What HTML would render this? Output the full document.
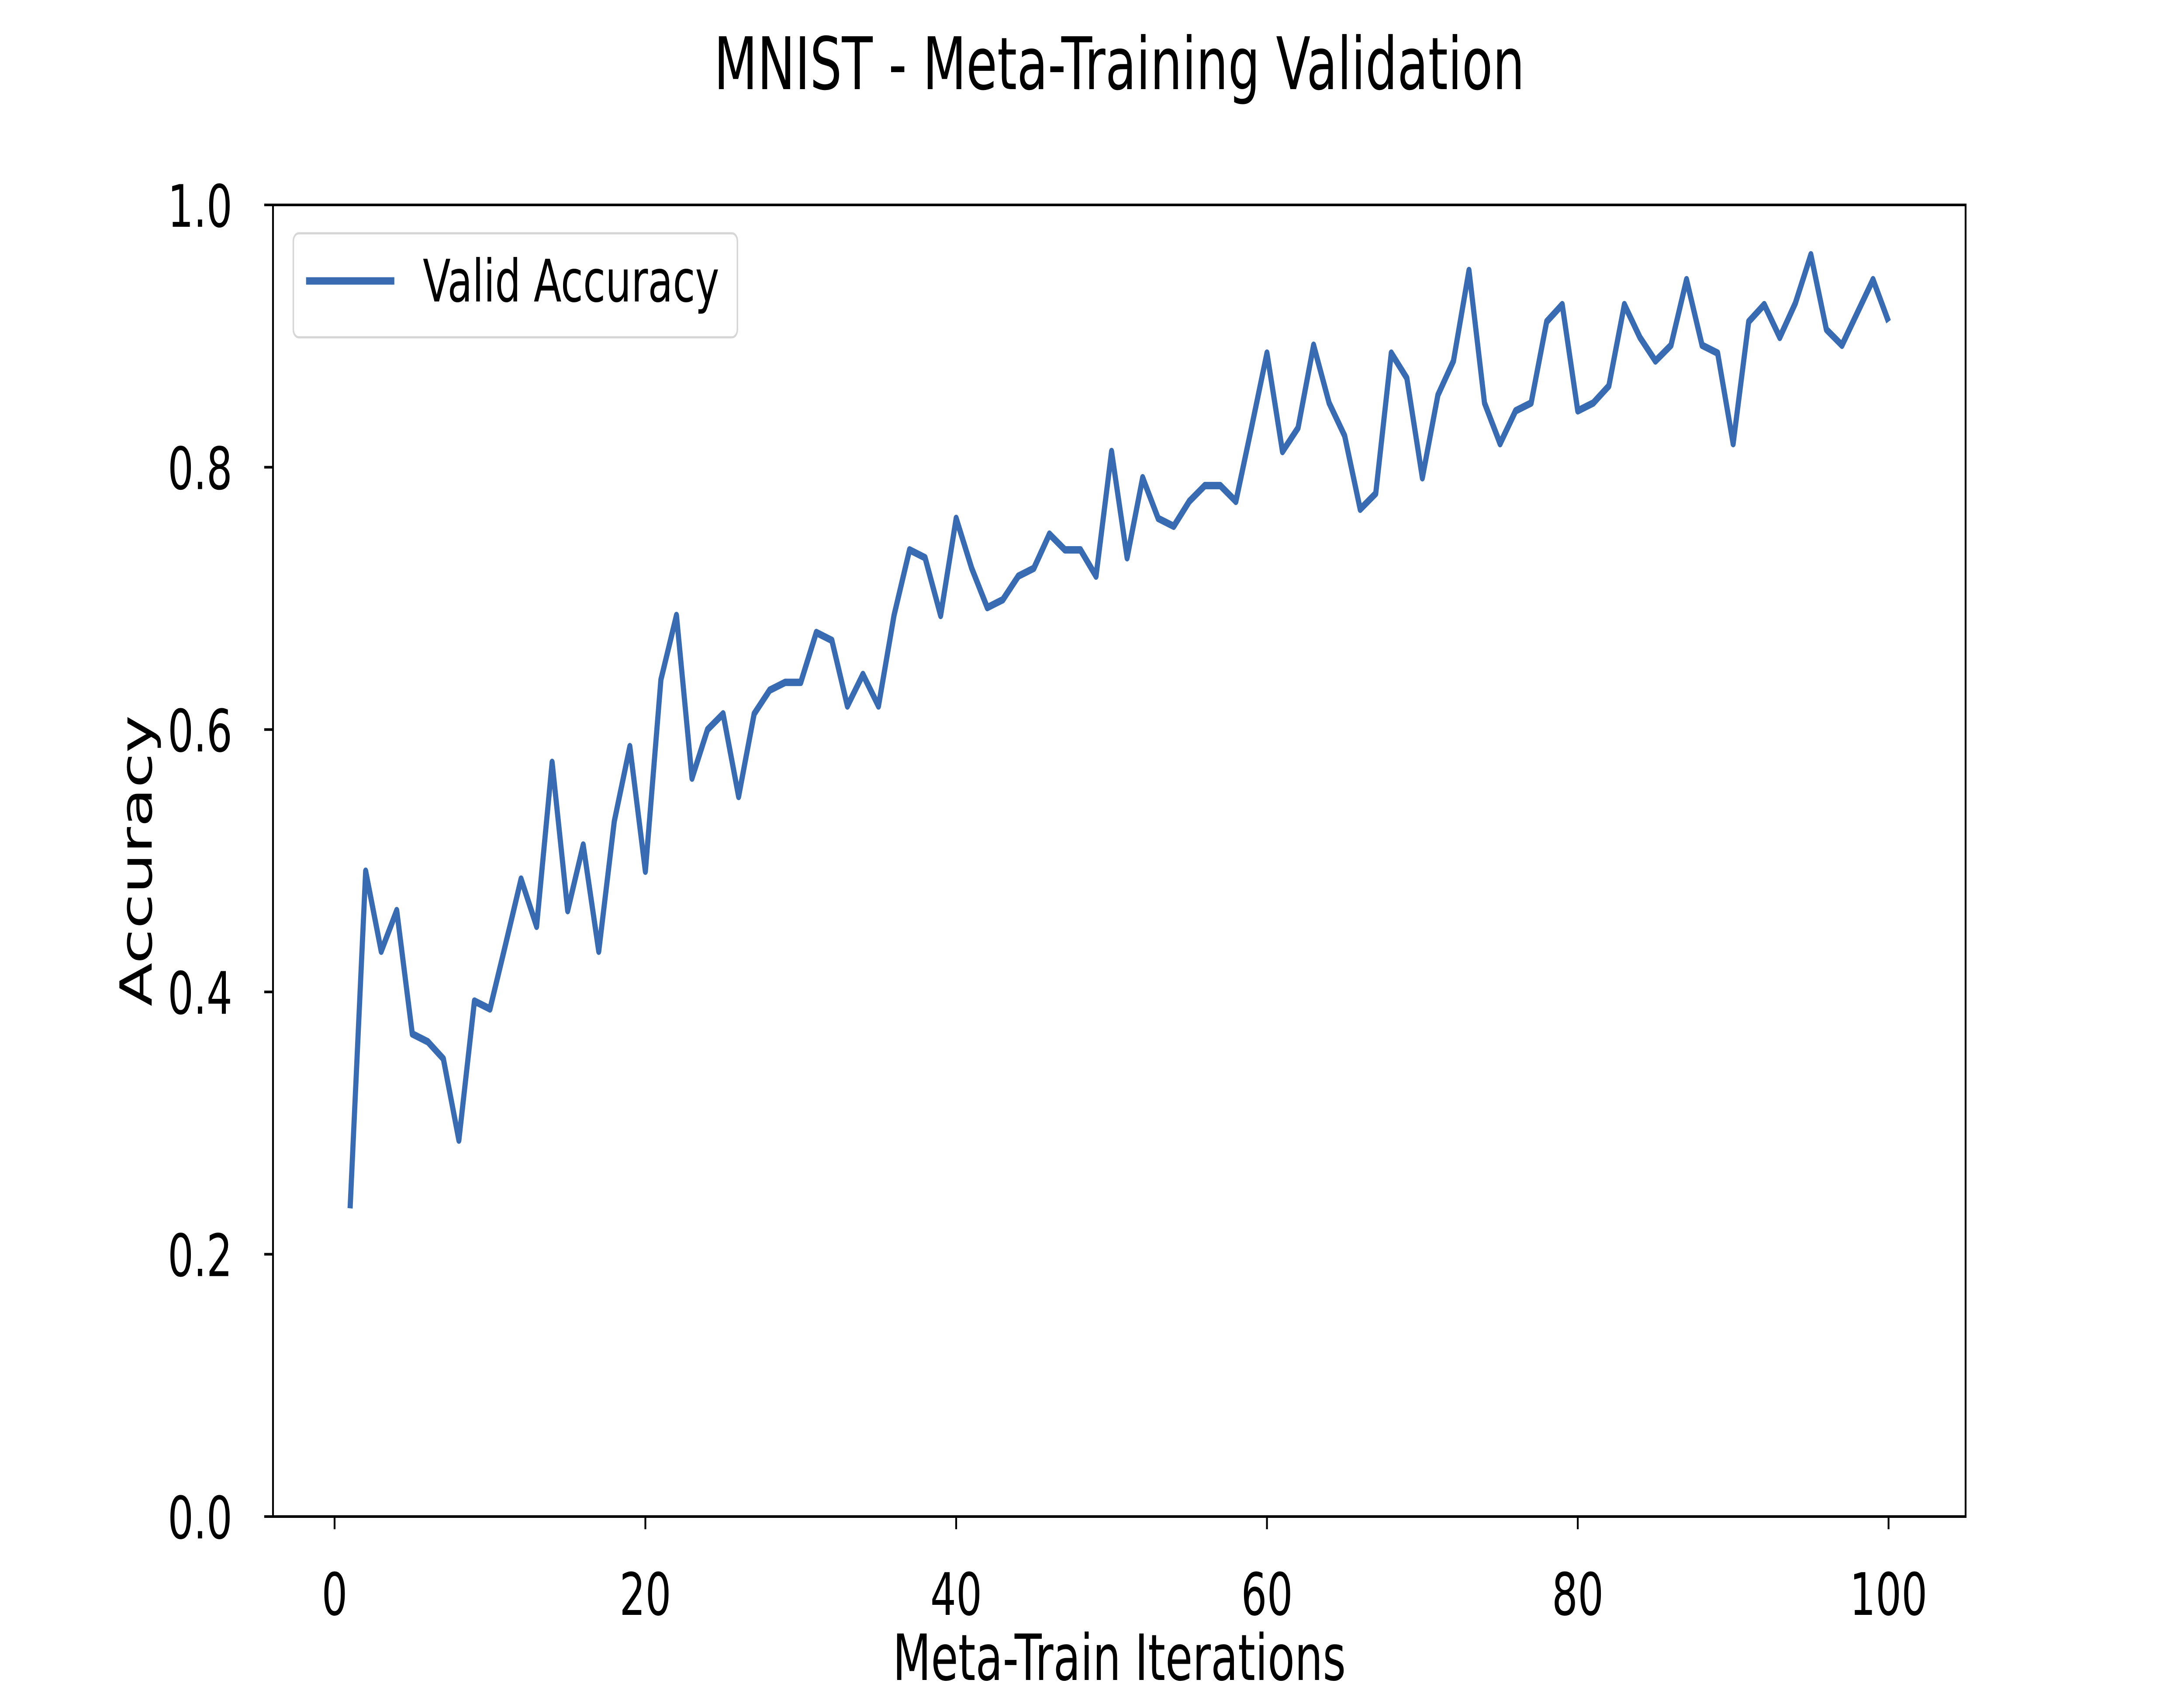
<!DOCTYPE html>
<html><head><meta charset="utf-8"><style>
html,body{margin:0;padding:0;background:#fff;width:100%;height:100%;overflow:hidden;}
svg{display:block;position:absolute;left:0;top:0;width:100vw;height:100vh;overflow:hidden;}
text{font-family:"DejaVu Sans","Liberation Sans",sans-serif;fill:#000;}
</style></head><body>
<svg id="chart" viewBox="0 0 7200 3900" preserveAspectRatio="none" xmlns="http://www.w3.org/2000/svg">
<rect x="0" y="0" width="7200" height="3900" fill="#fff"/>
<text x="3690" y="204" font-size="166" text-anchor="middle">MNIST - Meta-Training Validation</text>
<g id="ticks"></g>
<g id="series"></g>
<rect x="900" y="469" width="5580" height="3002" fill="none" stroke="#000" stroke-width="6"/>
<g>
<rect x="967" y="534" width="1464" height="238" rx="18" fill="#fff" fill-opacity="0.8" stroke="#d6d6d6" stroke-width="5"/>
<line x1="1009" y1="643" x2="1300" y2="643" stroke="#386bb1" stroke-width="17"/>
<text x="1394" y="690" font-size="134">Valid Accuracy</text>
</g>
<text x="3690" y="3845" font-size="146" text-anchor="middle">Meta-Train Iterations</text>
<text x="0" y="0" font-size="146" text-anchor="middle" transform="translate(500,1970) rotate(-90)">Accuracy</text>
</svg>
<script>
const iterations = Array.from({length:100},(_, i)=>i+1);
const validAccuracy = [0.235,0.492,0.431,0.462,0.368,0.362,0.349,0.287,0.393,0.387,
0.436,0.486,0.450,0.575,0.462,0.512,0.431,0.530,0.587,0.492,
0.638,0.687,0.563,0.600,0.612,0.549,0.612,0.630,0.636,0.636,
0.674,0.668,0.618,0.642,0.618,0.687,0.737,0.731,0.687,0.761,
0.723,0.693,0.699,0.717,0.723,0.749,0.737,0.737,0.717,0.812,
0.731,0.792,0.761,0.755,0.774,0.786,0.786,0.774,0.830,0.887,
0.812,0.830,0.893,0.849,0.824,0.768,0.780,0.887,0.868,0.792,
0.855,0.881,0.950,0.849,0.818,0.843,0.849,0.911,0.924,0.843,
0.849,0.862,0.924,0.899,0.881,0.893,0.943,0.893,0.887,0.818,
0.911,0.924,0.899,0.925,0.962,0.905,0.893,0.918,0.943,0.911];
const xTicks = [0,20,40,60,80,100];
const yTicks = [0.0,0.2,0.4,0.6,0.8,1.0];
const yTickLabels = ["0.0","0.2","0.4","0.6","0.8","1.0"];

const NS = "http://www.w3.org/2000/svg";
function xs(v){ return 1103 + (v - 0) * (6226 - 1103) / 100; }
function ys(v){ return 3471 - v * 3002; }

const tickG = document.getElementById('ticks');
xTicks.forEach(t => {
  const l = document.createElementNS(NS,'line');
  l.setAttribute('x1', xs(t)); l.setAttribute('x2', xs(t));
  l.setAttribute('y1', 3471); l.setAttribute('y2', 3500);
  l.setAttribute('stroke','#000'); l.setAttribute('stroke-width','6');
  
  
  tickG.appendChild(l);
  const tx = document.createElementNS(NS,'text');
  tx.setAttribute('x', xs(t)); tx.setAttribute('y', 3696);
  tx.setAttribute('font-size','134'); tx.setAttribute('text-anchor','middle');
  tx.textContent = String(t);
  
  
  tickG.appendChild(tx);
});
yTicks.forEach((t, i) => {
  const l = document.createElementNS(NS,'line');
  l.setAttribute('x1', 871); l.setAttribute('x2', 900);
  l.setAttribute('y1', ys(t)); l.setAttribute('y2', ys(t));
  l.setAttribute('stroke','#000'); l.setAttribute('stroke-width','6');
  
  
  tickG.appendChild(l);
  const tx = document.createElementNS(NS,'text');
  tx.setAttribute('x', 766); tx.setAttribute('y', ys(t) + 50);
  tx.setAttribute('font-size','134'); tx.setAttribute('text-anchor','end');
  tx.textContent = yTickLabels[i];
  
  
  tickG.appendChild(tx);
});

const pts = iterations.map((it, i) => xs(it).toFixed(1) + ',' + ys(validAccuracy[i]).toFixed(1)).join(' ');
const line = document.createElementNS(NS,'polyline');
line.setAttribute('points', pts);
line.setAttribute('fill','none');
line.setAttribute('stroke','#386bb1');
line.setAttribute('stroke-width','17');
line.setAttribute('stroke-linejoin','round');


document.getElementById('series').appendChild(line);
</script>
</body></html>
